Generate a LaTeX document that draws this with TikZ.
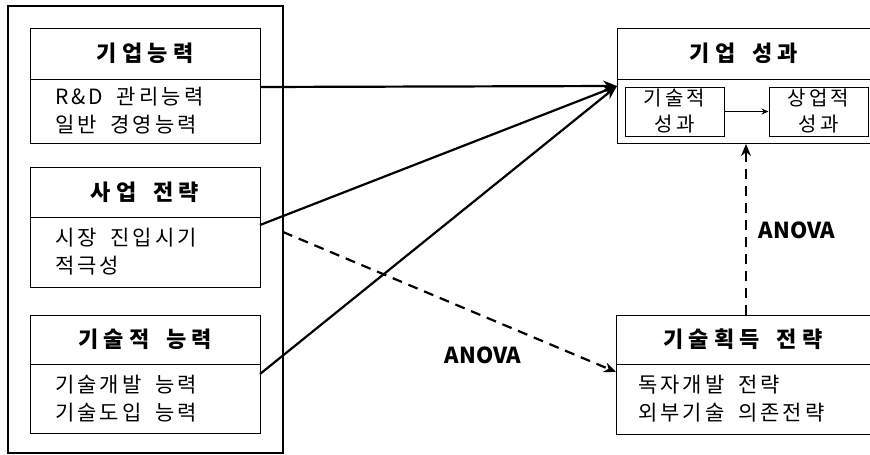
\documentclass[tikz,border=0pt]{standalone}
\usepackage{fontspec}
\newfontfamily\kr[LetterSpace=15]{Noto Sans CJK KR}
\newfontfamily\krh[LetterSpace=24]{Noto Sans CJK KR}
\newfontfamily\lat{Noto Sans CJK KR}
\usetikzlibrary{arrows.meta}
\newcommand{\wsp}{\hspace{0.3em}}

\tikzset{
  hd/.style={draw, line width=1pt, minimum height=50pt, font=\krh\bfseries\fontsize{22}{26}\selectfont},
  bd/.style={draw, line width=1pt, align=left, font=\kr\fontsize{21}{28}\selectfont},
  sub/.style={draw, line width=1pt, align=center, minimum width=99pt, minimum height=49pt, inner sep=1pt, font=\kr\fontsize{20}{26}\selectfont},
  lnk/.style={line width=2.2pt, -{Stealth[length=14pt,width=11pt]}},
  dlnk/.style={line width=2.2pt, dash pattern=on 10pt off 7pt, -{Stealth[length=12pt,width=10pt]}},
  lbl/.style={font=\lat\bfseries\fontsize{22}{26}\selectfont},
}

\begin{document}
\begin{tikzpicture}[x=1pt,y=-1pt]
\useasboundingbox (0,0) rectangle (870,455);
\clip (0,0) rectangle (870,455);

% left group
\node[draw, line width=1.4pt, minimum width=275pt, minimum height=447pt] (grp) at (145.5,229.5) {};

\node[hd, minimum width=230pt, minimum height=51pt] (h1) at (145,53.5) {기업능력};
\node[bd, minimum width=230pt, minimum height=64pt, text width=180pt] (b1) at (145,111) {R\&D \wsp{}관리능력\\일반 \wsp{}경영능력};
\node[hd, minimum width=230pt] (h2) at (145,192) {사업 \wsp{}전략};
\node[bd, minimum width=230pt, minimum height=70pt, text width=180pt] (b2) at (145,252) {시장 \wsp{}진입시기\\적극성};
\node[hd, minimum width=230pt, minimum height=49pt] (h3) at (145,339.5) {기술적 \wsp{}능력};
\node[bd, minimum width=230pt, minimum height=69pt, text width=180pt] (b3) at (145,398.5) {기술개발 \wsp{}능력\\기술도입 \wsp{}능력};

% right side
\node[hd, minimum width=254pt, minimum height=51pt] (h4) at (744,53.5) {기업 \wsp{}성과};
\node[draw, line width=1pt, minimum width=254pt, minimum height=64pt] (b4) at (744,111) {};
\node[sub] (tech) at (674.5,111.5) {기술적\\성과};
\node[sub] (biz) at (818.5,111.5) {상업적\\성과};

\node[hd, minimum width=254pt, minimum height=49pt] (h5) at (743,339.5) {기술획득 \wsp{}전략};
\node[bd, minimum width=254pt, minimum height=70pt, text width=210pt] (b5) at (743,399) {독자개발 \wsp{}전략\\외부기술 \wsp{}의존전략};

\node[lbl] (av1) at (483,355) {ANOVA};
\node[lbl] (av2) at (797,230) {ANOVA};

\coordinate (o1) at (260,87);
\coordinate (o2) at (260,225);
\coordinate (o3) at (260,374);
\coordinate (in) at (617,86);
\coordinate (o4) at (283,232);
\coordinate (in2) at (616,372);
\coordinate (up1) at (746,315);
\coordinate (up2) at (746,144);

\path[draw,lnk] (o1) -- (in);
\path[draw,lnk] (o2) -- (in);
\path[draw,lnk] (o3) -- (in);
\path[draw,line width=1.4pt,-{Stealth[length=7pt,width=6pt]}] (tech) -- (biz);
\path[draw,dlnk] (o4) -- (in2);
\path[draw,dlnk] (up1) -- (up2);
\end{tikzpicture}
\end{document}
